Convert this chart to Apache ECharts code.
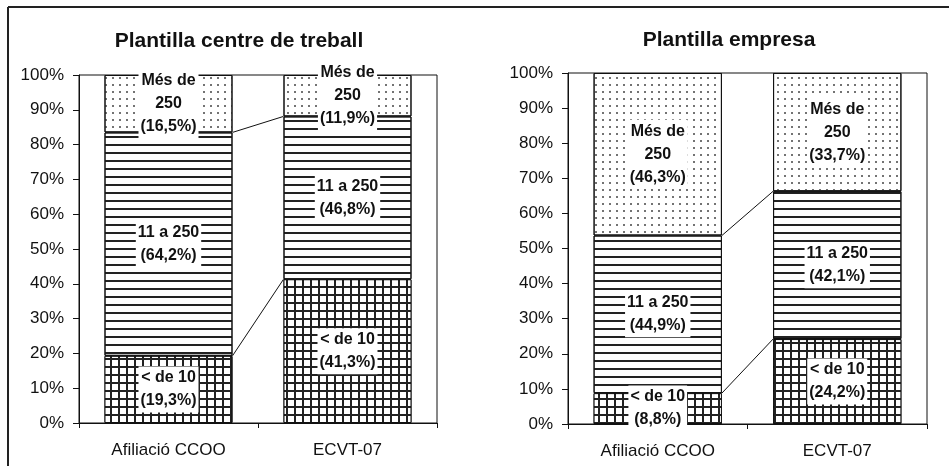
<!DOCTYPE html>
<html><head><meta charset="UTF-8">
<title>Plantilla</title>
<style>*{margin:0;padding:0}body{background:#fff}#chart{width:949px;height:466px}</style>
</head>
<body>
<div id="chart"></div>
<script src="https://cdn.jsdelivr.net/npm/echarts@6/dist/echarts.min.js"></script>
<script>
// dades
const categories = ['Afiliació CCOO', 'ECVT-07'];
const segmentLabels = ['< de 10', '11 a 250', 'Més de\n250'];
const titles = ['Plantilla centre de treball', 'Plantilla empresa'];
const centreSmall = [19.3, 41.3];
const centreMid = [64.2, 46.8];
const centreLarge = [16.5, 11.9];
const empresaSmall = [8.8, 24.2];
const empresaMid = [44.9, 42.1];
const empresaLarge = [46.3, 33.7];

const BAR_FRAC = 0.715;
const font = 'Arial, "Liberation Sans", sans-serif';

// tramats (patrons) de cada segment
const decals = [
    { symbol: 'rect', symbolSize: 1, color: '#fff', backgroundColor: '#222', dashArrayX: [6, 2], dashArrayY: [6, 2] },
    { symbol: 'rect', symbolSize: 1, color: '#222', dashArrayX: [10, 0], dashArrayY: [2, 6] },
    { symbol: 'circle', symbolSize: 1, color: '#444', dashArrayX: [2, 5], dashArrayY: [2, 5] }
];

function fmt(v) {
    return v.toFixed(1).replace('.', ',');
}

function barSeries(gridIdx, parts) {
    return parts.map((vals, i) => ({
        type: 'bar',
        stack: 'g' + gridIdx,
        xAxisIndex: gridIdx,
        yAxisIndex: gridIdx,
        barWidth: (BAR_FRAC * 100) + '%',
        data: vals,
        itemStyle: { color: '#fff', borderColor: '#111', borderWidth: 1, decal: decals[i] },
        label: {
            show: true,
            position: 'inside',
            formatter: p => segmentLabels[i] + '\n(' + fmt(p.value) + '%)',
            color: '#111',
            fontFamily: font,
            fontWeight: 'bold',
            fontSize: 16,
            lineHeight: 23,
            backgroundColor: '#fff',
            padding: [0, 2]
        },
        emphasis: { disabled: true },
        silent: true
    }));
}

// línies de sèrie entre les dues barres
function connectorSeries(gridIdx, small, mid) {
    const data = [
        [0, small[0], small[1]],
        [0, small[0] + mid[0], small[1] + mid[1]]
    ];
    return {
        type: 'custom',
        xAxisIndex: gridIdx,
        yAxisIndex: gridIdx,
        encode: { x: 0, y: [1, 2] },
        data: data,
        silent: true,
        z: 5,
        renderItem: (params, api) => {
            const half = api.size([1, 0])[0] * BAR_FRAC / 2;
            const p0 = api.coord([0, api.value(1)]);
            const p1 = api.coord([1, api.value(2)]);
            return {
                type: 'line',
                shape: { x1: p0[0] + half, y1: p0[1], x2: p1[0] - half, y2: p1[1] },
                style: { stroke: '#111', lineWidth: 1 }
            };
        }
    };
}

function xAxis(gridIdx) {
    return {
        type: 'category',
        gridIndex: gridIdx,
        data: categories,
        axisLine: { lineStyle: { color: '#111', width: 1 } },
        axisTick: { show: true, alignWithLabel: false, length: 5, lineStyle: { color: '#111' } },
        axisLabel: { color: '#111', fontFamily: font, fontSize: 17, margin: 19 }
    };
}

function yAxis(gridIdx) {
    return {
        type: 'value',
        gridIndex: gridIdx,
        min: 0,
        max: 100,
        interval: 10,
        axisLine: { show: true, lineStyle: { color: '#111', width: 1 } },
        axisTick: { show: true, length: 6, lineStyle: { color: '#111' } },
        splitLine: { show: false },
        axisLabel: { color: '#111', fontFamily: font, fontSize: 17, margin: 15, formatter: '{value}%' }
    };
}

const chart = echarts.init(document.getElementById('chart'), null, { renderer: 'canvas' });
chart.setOption({
    animation: false,
    backgroundColor: '#fff',
    title: [
        { text: titles[0], left: 234, top: 26, textAlign: 'center',
          textStyle: { fontFamily: font, fontWeight: 'bold', fontSize: 21, color: '#111' } },
        { text: titles[1], left: 724, top: 25, textAlign: 'center',
          textStyle: { fontFamily: font, fontWeight: 'bold', fontSize: 21, color: '#111' } }
    ],
    grid: [
        { left: 79, right: 512, top: 75, bottom: 43, show: true, borderColor: '#111', borderWidth: 1, backgroundColor: 'transparent' },
        { left: 568, right: 22, top: 73, bottom: 42, show: true, borderColor: '#111', borderWidth: 1, backgroundColor: 'transparent' }
    ],
    xAxis: [xAxis(0), xAxis(1)],
    yAxis: [yAxis(0), yAxis(1)],
    graphic: [
        { type: 'line', shape: { x1: 8, y1: 7, x2: 949, y2: 7 }, style: { stroke: '#222', lineWidth: 2 } },
        { type: 'line', shape: { x1: 8, y1: 7, x2: 8, y2: 466 }, style: { stroke: '#222', lineWidth: 2 } }
    ],
    series: [
        ...barSeries(0, [centreSmall, centreMid, centreLarge]),
        connectorSeries(0, centreSmall, centreMid),
        ...barSeries(1, [empresaSmall, empresaMid, empresaLarge]),
        connectorSeries(1, empresaSmall, empresaMid)
    ]
});
</script>
</body></html>
